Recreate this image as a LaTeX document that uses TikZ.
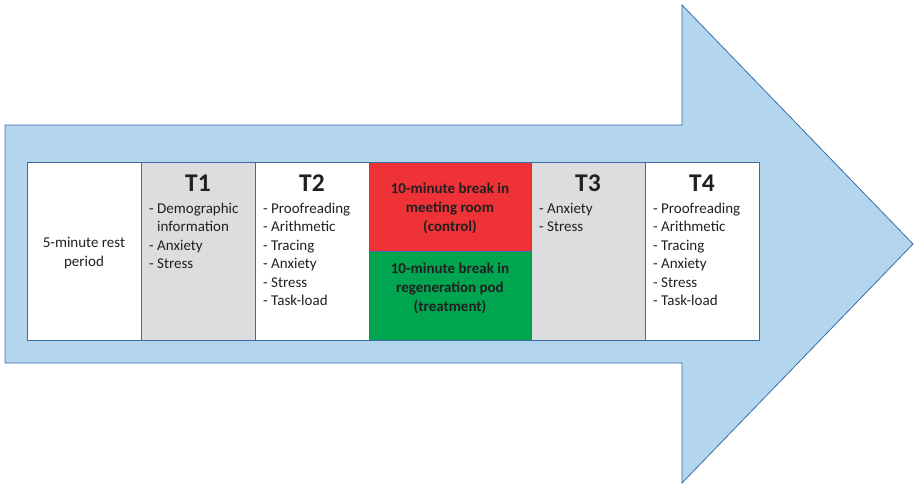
\documentclass[tikz,border=0pt]{standalone}
\usepackage{fontspec}
\setmainfont{Carlito}
\usepackage{xcolor}
\usepackage{tikz}
\usetikzlibrary{positioning}

\definecolor{ArrowBlue}{HTML}{B3D5EE}
\definecolor{EdgeBlue}{HTML}{3A6DA6}
\definecolor{StageGray}{HTML}{DCDDDF}
\definecolor{BreakRed}{HTML}{EE3237}
\definecolor{BreakGreen}{HTML}{00A550}
\definecolor{InkGray}{HTML}{231F20}

\begin{document}
\begin{tikzpicture}[x=1pt, y=-1pt,
        stage/.style = {rectangle,
            draw=EdgeBlue, line width=1pt,
            minimum width=114pt, minimum height=178pt,
            inner sep=0pt, outer sep=0pt, fill=white},
        breakbox/.style = {rectangle,
            draw=EdgeBlue, line width=1pt,
            minimum width=162pt, minimum height=89pt,
            inner sep=0pt, outer sep=0pt},
        title/.style = {anchor=base, inner sep=0pt, text=InkGray,
            font=\fontsize{25.5}{28}\selectfont\bfseries},
        list/.style = {anchor=north west, inner sep=0pt, align=left, text=InkGray,
            font=\fontsize{15}{18.5}\selectfont,
            execute at begin node=\strut},
        note/.style = {inner sep=0pt, align=center, text=InkGray,
            font=\fontsize{15}{19}\selectfont}]

        \useasboundingbox (0,0) rectangle (914,485);

        % Arrow
        \draw[EdgeBlue, line width=0.8pt, fill=ArrowBlue]
            (5,125) -- (682,125) -- (682,5) -- (913,244)
            -- (682,483) -- (682,363) -- (5,363) -- cycle;

        % Stages
        \node[stage] (rest) at (84,251) {};
        \node[stage, fill=StageGray, right=0pt of rest] (t1) {};
        \node[stage, right=0pt of t1] (t2) {};
        \node[breakbox, fill=BreakRed, anchor=north west] (control) at (t2.north east) {};
        \node[breakbox, fill=BreakGreen, below=0pt of control] (treatment) {};
        \node[stage, fill=StageGray, anchor=north west] (t3) at (control.north east) {};
        \node[stage, right=0pt of t3] (t4) {};

        % Rest period
        \node[note] at ([yshift=-2.5pt]rest.center) {5-minute rest\\period};

        % Titles
        \node[title] at ([yshift=-29pt]t1.north) {T1};
        \node[title] at ([yshift=-29pt]t2.north) {T2};
        \node[title] at ([yshift=-29pt]t3.north) {T3};
        \node[title] at ([yshift=-29pt]t4.north) {T4};

        % Measures
        \node[list] at ([shift={(8pt,-40.5pt)}]t1.north west)
            {- Demographic\\\phantom{- }information\\- Anxiety\\- Stress};
        \node[list] at ([shift={(8pt,-40.5pt)}]t2.north west)
            {- Proofreading\\- Arithmetic\\- Tracing\\- Anxiety\\- Stress\\- Task-load};
        \node[list] at ([shift={(8pt,-40.5pt)}]t3.north west)
            {- Anxiety\\- Stress};
        \node[list] at ([shift={(8pt,-40.5pt)}]t4.north west)
            {- Proofreading\\- Arithmetic\\- Tracing\\- Anxiety\\- Stress\\- Task-load};

        % Breaks
        \node[note, font=\fontsize{15}{19}\selectfont\bfseries]
            at ([yshift=-1.5pt]control.center)
            {10-minute break in\\meeting room\\(control)};
        \node[note, font=\fontsize{15}{19}\selectfont\bfseries]
            at ([yshift=7pt]treatment.center)
            {10-minute break in\\regeneration pod\\(treatment)};
    \end{tikzpicture}
\end{document}
